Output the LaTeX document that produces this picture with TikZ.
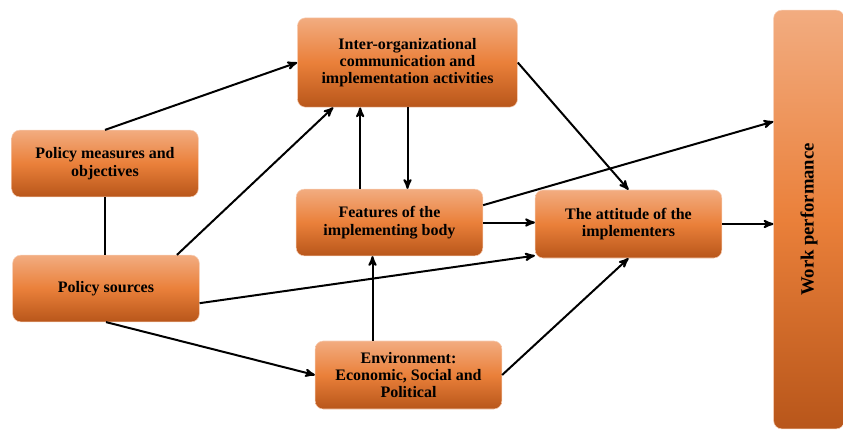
\documentclass[tikz,border=0pt]{standalone}
\usepackage{fontspec}
\setmainfont{Liberation Serif}
\usepackage{tikz}
\usetikzlibrary{shapes,arrows}

\definecolor{orLight}{RGB}{242,172,128}
\definecolor{orMid}{RGB}{234,128,58}
\definecolor{orDark}{RGB}{184,86,26}

\tikzset{
  box/.style={rounded corners=6pt, top color=orLight, bottom color=orDark,
    middle color=orMid, draw=orLight!60!white, line width=0.4pt,
    minimum width=140pt, minimum height=50pt, align=center,
    font=\fontsize{12}{13}\selectfont\bfseries, inner sep=2pt},
  conn/.style={line width=1.5pt, >=stealth'},
}

\begin{document}
\begin{tikzpicture}[x=0.75pt,y=0.75pt,yscale=-1,xscale=1]
    \useasboundingbox (0,0) rectangle (843,430);

    % Boxes
    \node [box, minimum width=165pt, minimum height=67pt] (inter) at (407.5,62.5) {Inter-organizational\\communication and\\implementation activities};
    \node [box] (measures) at (105,163.5) {Policy measures and\\objectives};
    \node [box] (sources) at (106,288.5) {Policy sources};
    \node [box] (features) at (389.5,222.5) {Features of the\\implementing body};
    \node [box, minimum height=51pt] (attitude) at (628.5,224) {The attitude of the\\implementers};
    \node [box, minimum height=51pt] (environ) at (408.5,375) {Environment:\\Economic, Social and\\Political};
    % Work performance, tall bar on the right
    \node [box, minimum width=53pt, minimum height=314pt, font=\fontsize{14}{15}\selectfont\bfseries] (work) at (809,219.5) {\rotatebox{90}{Work performance}};

    % Connectors (negative yshift = up, since yscale=-1)
    \draw [conn,->] (measures.north) -- (inter.west);
    \draw [conn] (measures.south) -- (measures.south |- sources.north);
    \draw [conn,->] ([xshift=-17pt]sources.north east) -- ([xshift=27pt]inter.south west);
    \draw [conn,->] ([yshift=11pt]sources.east) -- ([yshift=-2pt]attitude.south west);
    \draw [conn,->] (sources.south) -- (environ.west);
    \draw [conn,->] ([xshift=-22pt]features.north) -- ([xshift=-22pt]features.north |- inter.south);
    \draw [conn,->] (inter.south) -- (inter.south |- features.north);
    \draw [conn,->] (inter.east) -- (attitude.north);
    \draw [conn,->] ([yshift=-13pt]features.east) -- ([yshift=-73.5pt]work.west);
    \draw [conn,->] (features.east) -- (features.east -| attitude.west);
    \draw [conn,->] ([xshift=-27pt]environ.north) -- ([xshift=-27pt]environ.north |- features.south);
    \draw [conn,->] (environ.east) -- (attitude.south);
    \draw [conn,->] (attitude.east) -- (attitude.east -| work.west);

\end{tikzpicture}
\end{document}
